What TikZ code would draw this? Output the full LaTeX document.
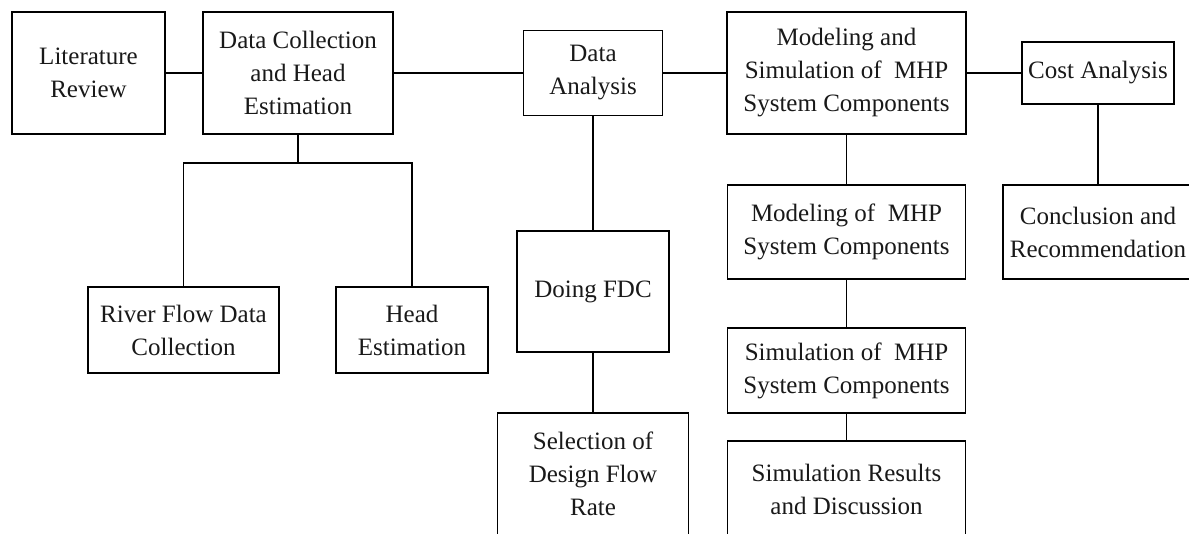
\documentclass[tikz,border=0pt]{standalone}
\usepackage{fontspec}
\setmainfont{Liberation Serif}
\begin{document}
\begin{tikzpicture}[x=1pt,y=-1pt,
  box/.style={draw=black, line width=1.5pt, align=center, inner sep=0pt,
    font=\fontsize{25}{33}\selectfont, text=black!90},
  link/.style={draw=black, line width=1.5pt}]
\clip (0,0) rectangle (1189,533);
\fill[white] (0,0) rectangle (1189,533);
\node[box, minimum width=153pt, minimum height=122pt] (lit) at (88.5,73) {Literature\\Review};
\node[box, minimum width=190pt, minimum height=122pt] (dc) at (298,73) {Data Collection\\and Head\\Estimation};
\node[box, minimum width=139pt, minimum height=85pt] (da) at (593,73) {Data\\Analysis};
\node[box, minimum width=239pt, minimum height=122pt] (mhp) at (846.5,73) {Modeling and\\Simulation of~ MHP\\System Components};
\node[box, minimum width=152pt, minimum height=62pt] (cost) at (1098,73) {Cost Analysis};
\node[box, minimum width=191pt, minimum height=86pt] (river) at (183.5,330) {River Flow Data\\Collection};
\node[box, minimum width=152pt, minimum height=86pt] (head) at (412,330) {Head\\Estimation};
\node[box, minimum width=152pt, minimum height=121pt] (fdc) at (593,291.5) {Doing FDC};
\node[box, minimum width=191pt, minimum height=122pt] (sel) at (593,474) {Selection of\\Design Flow\\Rate};
\node[box, minimum width=238pt, minimum height=94pt] (mod) at (846.5,232) {Modeling of~ MHP\\System Components};
\node[box, minimum width=238pt, minimum height=85pt] (sim) at (846.5,370.5) {Simulation of~ MHP\\System Components};
\node[box, minimum width=238pt, minimum height=96pt] (res) at (846.5,489) {Simulation Results\\and Discussion};
\node[box, minimum width=190pt, minimum height=94pt] (conc) at (1098,232) {Conclusion and\\Recommendation};
\coordinate (bar) at (298,163);
\draw[link] (lit.east) -- (dc.west);
\draw[link] (dc.east) -- (da.west);
\draw[link] (da.east) -- (mhp.west);
\draw[link] (mhp.east) -- (cost.west);
\draw[link] (dc.south) -- (bar);
\draw[link] (river.north) |- (bar) -| (head.north);
\draw[link] (da.south) -- (fdc.north);
\draw[link] (fdc.south) -- (sel.north);
\draw[link] (mhp.south) -- (mod.north);
\draw[link] (mod.south) -- (sim.north);
\draw[link] (sim.south) -- (res.north);
\draw[link] (cost.south) -- (conc.north);
\end{tikzpicture}
\end{document}
